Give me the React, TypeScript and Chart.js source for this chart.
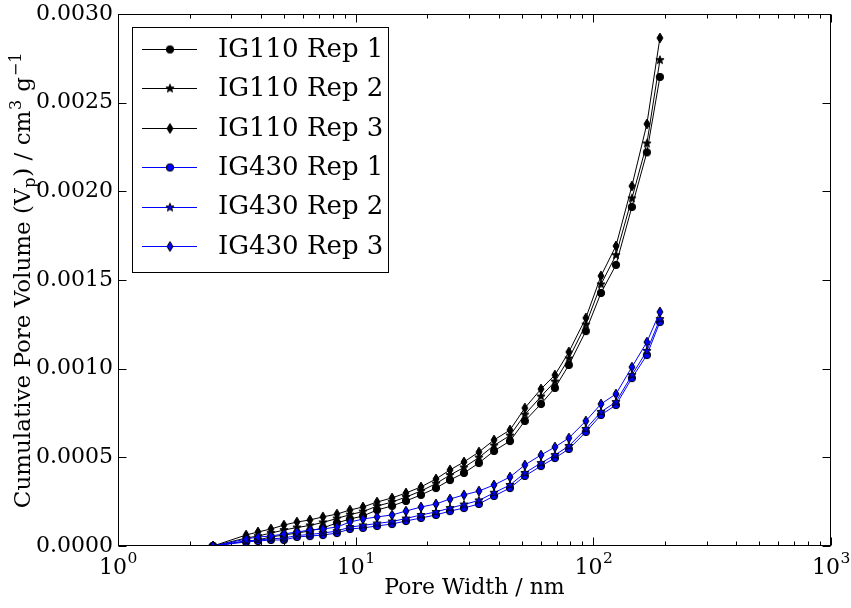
import React, { useEffect, useRef } from 'react';
import { Chart, registerables } from 'chart.js';

Chart.register(...registerables);

const poreWidth = [2.51, 3.46, 3.88, 4.40, 4.99, 5.66, 6.42, 7.28, 8.34, 9.46, 10.73, 12.30, 14.22, 16.28, 18.83, 21.77, 24.94, 28.55, 33.0, 38.2, 44.6, 51.5, 60.2, 68.9, 78.9, 93.0, 107.7, 124.5, 145.3, 168.0, 190.6];

const ig110Rep1 = [0, 2.8e-5, 3.4e-5, 5.1e-5, 6.2e-5, 7.3e-5, 8.5e-5, 1.02e-4, 1.30e-4, 1.52e-4, 1.69e-4, 2.03e-4, 2.26e-4, 2.54e-4, 2.88e-4, 3.27e-4, 3.72e-4, 4.12e-4, 4.68e-4, 5.36e-4, 5.92e-4, 7.05e-4, 8.01e-4, 8.91e-4, 1.021e-3, 1.212e-3, 1.427e-3, 1.585e-3, 1.912e-3, 2.22e-3, 2.645e-3];
const ig110Rep2 = [0, 4.5e-5, 5.6e-5, 7.3e-5, 9.0e-5, 1.04e-4, 1.16e-4, 1.33e-4, 1.55e-4, 1.77e-4, 1.94e-4, 2.25e-4, 2.48e-4, 2.76e-4, 3.10e-4, 3.52e-4, 4.00e-4, 4.43e-4, 4.99e-4, 5.67e-4, 6.23e-4, 7.41e-4, 8.43e-4, 9.27e-4, 1.057e-3, 1.249e-3, 1.475e-3, 1.64e-3, 1.96e-3, 2.27e-3, 2.74e-3];
const ig110Rep3 = [0, 6.2e-5, 7.9e-5, 9.6e-5, 1.18e-4, 1.35e-4, 1.47e-4, 1.64e-4, 1.80e-4, 2.03e-4, 2.20e-4, 2.48e-4, 2.71e-4, 2.99e-4, 3.33e-4, 3.78e-4, 4.29e-4, 4.74e-4, 5.30e-4, 5.98e-4, 6.54e-4, 7.78e-4, 8.85e-4, 9.64e-4, 1.094e-3, 1.286e-3, 1.523e-3, 1.692e-3, 2.03e-3, 2.38e-3, 2.865e-3];
const ig430Rep1 = [0, 2.3e-5, 2.8e-5, 3.4e-5, 3.4e-5, 5.1e-5, 5.6e-5, 6.2e-5, 7.3e-5, 9.6e-5, 1.02e-4, 1.13e-4, 1.24e-4, 1.41e-4, 1.58e-4, 1.75e-4, 1.97e-4, 2.14e-4, 2.37e-4, 2.82e-4, 3.27e-4, 3.95e-4, 4.51e-4, 4.96e-4, 5.47e-4, 6.43e-4, 7.39e-4, 7.95e-4, 9.47e-4, 1.077e-3, 1.263e-3];
const ig430Rep2 = [0, 2.8e-5, 3.4e-5, 4.0e-5, 4.5e-5, 5.9e-5, 6.5e-5, 7.3e-5, 8.4e-5, 1.07e-4, 1.16e-4, 1.27e-4, 1.38e-4, 1.55e-4, 1.75e-4, 1.92e-4, 2.14e-4, 2.34e-4, 2.57e-4, 3.00e-4, 3.44e-4, 4.12e-4, 4.68e-4, 5.13e-4, 5.64e-4, 6.60e-4, 7.56e-4, 8.12e-4, 9.64e-4, 1.10e-3, 1.28e-3];
const ig430Rep3 = [0, 3.9e-5, 5.1e-5, 5.6e-5, 6.8e-5, 7.9e-5, 9.0e-5, 9.6e-5, 1.07e-4, 1.35e-4, 1.52e-4, 1.64e-4, 1.75e-4, 1.97e-4, 2.20e-4, 2.37e-4, 2.65e-4, 2.88e-4, 3.10e-4, 3.44e-4, 3.89e-4, 4.57e-4, 5.13e-4, 5.58e-4, 6.09e-4, 7.05e-4, 8.01e-4, 8.57e-4, 1.009e-3, 1.150e-3, 1.320e-3];

const seriesLabels = ['IG110 Rep 1', 'IG110 Rep 2', 'IG110 Rep 3', 'IG430 Rep 1', 'IG430 Rep 2', 'IG430 Rep 3'];
const seriesValues = [ig110Rep1, ig110Rep2, ig110Rep3, ig430Rep1, ig430Rep2, ig430Rep3];
const seriesColors = ['#000000', '#000000', '#000000', '#0000ff', '#0000ff', '#0000ff'];
const seriesMarkers = ['circle', 'star', 'diamond', 'circle', 'star', 'diamond'];

const yTicks = [0, 0.0005, 0.001, 0.0015, 0.002, 0.0025, 0.003];
const xMajorTicks = [1, 10, 100, 1000];
const xTickBase = '10';
const xTickExponents = ['0', '1', '2', '3'];

const xTitle = 'Pore Width / nm';
// [text, script: 0 normal, -1 subscript, 1 superscript]
const yTitleParts: [string, number][] = [
  ['Cumulative Pore Volume (V', 0],
  ['p', -1],
  [') / cm', 0],
  ['3', 1],
  [' g', 0],
  ['−1', 1],
];

const FONT = '"DejaVu Serif", serif';

function makeMarker(shape: string, fill: string): HTMLCanvasElement {
  const c = document.createElement('canvas');
  c.width = 14;
  c.height = 14;
  const ctx = c.getContext('2d')!;
  ctx.translate(7, 7);
  ctx.beginPath();
  if (shape === 'circle') {
    ctx.arc(0, 0, 3.7, 0, Math.PI * 2);
  } else if (shape === 'diamond') {
    ctx.moveTo(0, -4.9);
    ctx.lineTo(3, 0);
    ctx.lineTo(0, 4.9);
    ctx.lineTo(-3, 0);
    ctx.closePath();
  } else {
    for (let i = 0; i < 10; i++) {
      const r = i % 2 === 0 ? 4.3 : 1.8;
      const a = -Math.PI / 2 + (i * Math.PI) / 5;
      const px = r * Math.cos(a);
      const py = r * Math.sin(a);
      if (i === 0) ctx.moveTo(px, py);
      else ctx.lineTo(px, py);
    }
    ctx.closePath();
  }
  ctx.fillStyle = fill;
  ctx.fill();
  ctx.strokeStyle = '#000';
  ctx.lineWidth = 1;
  ctx.stroke();
  return c;
}

export default function App() {
  const ref = useRef<HTMLCanvasElement | null>(null);

  useEffect(() => {
    if (!ref.current) return;
    const markers = seriesMarkers.map((m, i) => makeMarker(m, seriesColors[i]));

    const framePlugin = {
      id: 'framePlugin',
      afterDatasetsDraw(chart: any) {
        const { ctx, chartArea: a, scales } = chart;
        const xs = scales.x;
        const ys = scales.y;
        ctx.save();
        ctx.strokeStyle = '#000';
        ctx.lineWidth = 1;
        const L = Math.round(a.left) + 0.5;
        const R = Math.round(a.right) - 0.5;
        const T = Math.round(a.top) + 0.5;
        const B = Math.round(a.bottom) - 0.5;
        ctx.strokeRect(L, T, R - L, B - T);
        ctx.beginPath();
        xMajorTicks.forEach((v) => {
          const px = Math.round(xs.getPixelForValue(v)) + 0.5;
          ctx.moveTo(px, B); ctx.lineTo(px, B - 8);
          ctx.moveTo(px, T); ctx.lineTo(px, T + 8);
        });
        for (let d = 1; d < 1000; d *= 10) {
          for (let k = 2; k <= 9; k++) {
            const px = Math.round(xs.getPixelForValue(k * d)) + 0.5;
            ctx.moveTo(px, B); ctx.lineTo(px, B - 4);
            ctx.moveTo(px, T); ctx.lineTo(px, T + 4);
          }
        }
        yTicks.forEach((v) => {
          const py = Math.round(ys.getPixelForValue(v)) + 0.5;
          ctx.moveTo(L, py); ctx.lineTo(L + 8, py);
          ctx.moveTo(R, py); ctx.lineTo(R - 8, py);
        });
        ctx.stroke();

        ctx.fillStyle = '#000';
        ctx.textAlign = 'left';
        ctx.textBaseline = 'alphabetic';

        const bigFont = '22px ' + FONT;
        const smallFont = '15.5px ' + FONT;
        xMajorTicks.forEach((v, i) => {
          const px = xs.getPixelForValue(v);
          ctx.font = bigFont;
          const w1 = ctx.measureText(xTickBase).width;
          ctx.font = smallFont;
          const w2 = ctx.measureText(xTickExponents[i]).width;
          const x0 = px - (w1 + w2) / 2;
          ctx.font = bigFont;
          ctx.fillText(xTickBase, x0, 574);
          ctx.font = smallFont;
          ctx.fillText(xTickExponents[i], x0 + w1 + 0.5, 563);
        });

        ctx.font = bigFont;
        ctx.textAlign = 'center';
        ctx.textBaseline = 'middle';
        ctx.fillText(xTitle, (a.left + a.right) / 2, 588);

        // y title with sub/superscripts
        const yBig = '23px ' + FONT;
        const ySmall = '16px ' + FONT;
        ctx.textAlign = 'left';
        ctx.textBaseline = 'alphabetic';
        let total = 0;
        const widths = yTitleParts.map(([t, s]) => {
          ctx.font = s === 0 ? yBig : ySmall;
          const w = ctx.measureText(t).width + (s !== 0 ? 1.5 : 0);
          total += w;
          return w;
        });
        ctx.save();
        ctx.translate(30, (a.top + a.bottom) / 2);
        ctx.rotate(-Math.PI / 2);
        let cx = -total / 2;
        yTitleParts.forEach(([t, s], i) => {
          ctx.font = s === 0 ? yBig : ySmall;
          const dy = s === 0 ? 0 : s < 0 ? 5 : -9;
          ctx.fillText(t, cx + (s !== 0 ? 0.75 : 0), dy);
          cx += widths[i];
        });
        ctx.restore();

        // legend
        const lx = 132.5, ly = 27.5, lw = 256, lh = 245;
        ctx.fillStyle = '#fff';
        ctx.fillRect(lx, ly, lw, lh);
        ctx.strokeStyle = '#000';
        ctx.lineWidth = 1;
        ctx.strokeRect(lx, ly, lw, lh);
        ctx.font = '26px ' + FONT;
        ctx.textAlign = 'left';
        ctx.textBaseline = 'middle';
        seriesLabels.forEach((lab, i) => {
          const yy = 49 + i * 39.4;
          ctx.strokeStyle = seriesColors[i];
          ctx.lineWidth = 1;
          ctx.beginPath();
          ctx.moveTo(142, Math.round(yy) + 0.5);
          ctx.lineTo(197, Math.round(yy) + 0.5);
          ctx.stroke();
          const m = markers[i];
          ctx.drawImage(m, 170 - m.width / 2, Math.round(yy) + 0.5 - m.height / 2);
          ctx.fillStyle = '#000';
          ctx.fillText(lab, 218, yy + 1);
        });
        ctx.restore();
      },
    };

    const chart = new Chart(ref.current, {
      type: 'line',
      data: {
        datasets: seriesLabels.map((lab, i) => ({
          label: lab,
          data: poreWidth.map((x, j) => ({ x, y: seriesValues[i][j] })),
          borderColor: seriesColors[i],
          backgroundColor: seriesColors[i],
          borderWidth: 1,
          pointStyle: markers[i] as any,
          pointRadius: 4,
          tension: 0,
          fill: false,
          order: 6 - i,
        })),
      },
      options: {
        animation: false,
        responsive: false,
        devicePixelRatio: 1,
        layout: { padding: { top: 14, right: 20, left: 0, bottom: 0 } },
        plugins: {
          legend: { display: false },
          tooltip: { enabled: false },
        },
        scales: {
          x: {
            type: 'logarithmic',
            min: 1,
            max: 1000,
            grid: { display: false, drawTicks: false },
            border: { display: false },
            afterBuildTicks: (scale: any) => {
              scale.ticks = xMajorTicks.map((v) => ({ value: v, major: true }));
            },
            afterFit: (scale: any) => {
              scale.height = 62;
              scale.paddingLeft = 0;
              scale.paddingRight = 0;
            },
            ticks: { display: false },
          },
          y: {
            type: 'linear',
            min: 0,
            max: 0.003,
            grid: { display: false, drawTicks: false },
            border: { display: false },
            afterBuildTicks: (scale: any) => {
              scale.ticks = yTicks.map((v) => ({ value: v }));
            },
            afterFit: (scale: any) => {
              scale.width = 118;
              scale.paddingTop = 0;
              scale.paddingBottom = 0;
            },
            ticks: {
              padding: 5,
              color: '#000',
              font: { family: FONT, size: 22 },
              callback: (v: any) => Number(v).toFixed(4),
            },
          },
        },
      },
      plugins: [framePlugin],
    } as any);

    return () => chart.destroy();
  }, []);

  return (
    <div style={{ position: 'fixed', left: 0, top: 0, width: 851, height: 608, background: '#fff' }}>
      <canvas ref={ref} width={851} height={608} />
    </div>
  );
}
